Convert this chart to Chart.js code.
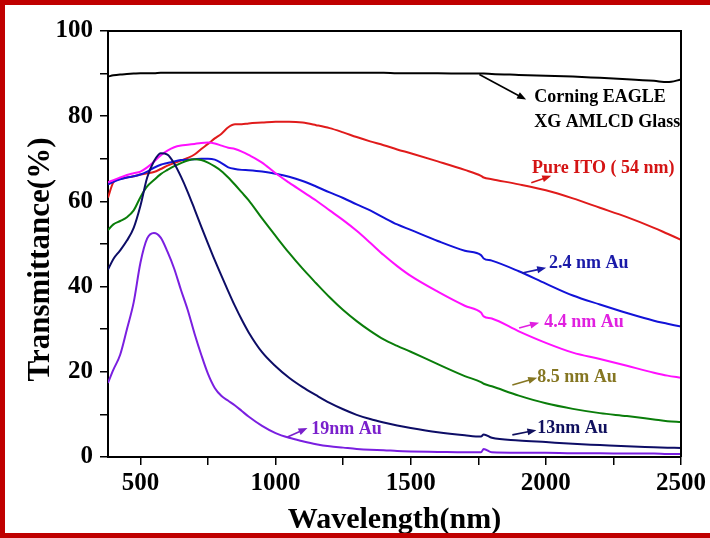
<!DOCTYPE html>
<html>
<head>
<meta charset="utf-8">
<script src="https://cdn.jsdelivr.net/npm/chart.js@4.4.1/dist/chart.umd.min.js"></script>
<style>
  html, body { margin: 0; padding: 0; background: #fff; }
  #wrap { position: relative; width: 710px; height: 538px; }
  #c { position: absolute; left: 0; top: 0; }
  #frame { position: absolute; left: 0; top: 0; width: 710px; height: 538px; box-sizing: border-box;
           border-top: 5px solid #c00000; border-left: 5px solid #c00000; border-bottom: 5px solid #c00000; pointer-events: none; }
</style>
</head>
<body>
<div id="wrap">
  <canvas id="c" width="710" height="538"></canvas>
  <div id="frame"></div>
</div>
<script>
// ---- data (wavelength in nm, transmittance in %) ----
const wavelengths = [380,400,425,450,475,500,525,550,575,600,625,650,675,700,725,750,775,800,825,850,875,900,950,1000,1050,1100,1150,1200,1250,1300,1350,1400,1450,1500,1600,1700,1760,1770,1800,1900,2000,2100,2200,2300,2400,2450,2500];

const glass = [89.3,89.6,89.8,89.9,90.0,90.1,90.1,90.1,90.2,90.2,90.2,90.2,90.2,90.2,90.2,90.2,90.2,90.2,90.2,90.2,90.2,90.2,90.2,90.2,90.2,90.2,90.2,90.2,90.2,90.2,90.2,90.2,90.1,90.1,90.1,90.0,90.0,90.0,89.9,89.7,89.5,89.3,89.0,88.7,88.3,88.0,88.6];

const ito = [60.9,64.5,65.3,65.6,65.9,66.3,66.6,66.9,67.6,68.4,69.0,69.6,70.2,71.0,72.3,73.5,74.8,75.9,77.4,78.1,78.1,78.3,78.5,78.7,78.7,78.5,77.9,77.2,76.2,75.1,74.1,73.2,72.2,71.3,69.4,67.4,66.0,65.6,65.2,64.0,62.6,60.7,58.5,56.3,53.8,52.4,51.0];

const au24 = [64.0,64.6,65.2,65.6,65.9,66.3,67.0,67.9,68.6,69.0,69.4,69.7,69.8,69.9,70.0,70.0,69.8,69.0,68.0,67.6,67.4,67.3,67.0,66.5,65.8,64.8,63.5,62.1,60.8,59.3,57.9,56.2,54.6,53.3,50.7,48.4,47.4,46.6,46.1,43.6,40.7,37.9,35.8,33.8,32.0,31.3,30.6];

const au44 = [64.5,65.0,65.6,66.2,66.6,67.0,68.0,69.3,70.8,71.9,72.7,73.1,73.3,73.5,73.7,73.8,73.6,73.1,72.6,72.3,71.7,70.9,69.1,66.6,64.4,62.3,60.2,57.9,55.6,53.1,50.3,47.4,44.8,42.5,38.8,35.5,33.9,33.0,32.5,29.5,26.8,24.5,23.0,21.4,19.8,19.1,18.6];

const au85 = [53.3,54.6,55.4,56.3,57.9,61.0,63.5,65.0,66.4,67.4,68.3,69.0,69.6,69.9,69.7,69.1,68.2,67.1,65.6,63.9,62.1,60.3,56.0,51.9,47.9,44.2,40.8,37.5,34.5,31.9,29.6,27.6,26.1,24.7,21.8,19.0,17.6,17.2,16.6,14.4,12.6,11.3,10.3,9.6,8.8,8.4,8.2];

const au13 = [44.0,46.5,48.5,50.8,53.8,59.0,65.6,69.4,71.3,71.0,68.9,65.8,62.2,58.2,54.1,50.1,46.2,42.5,38.9,35.4,32.2,29.3,24.6,21.3,18.6,16.4,14.5,12.7,11.2,9.9,8.9,8.1,7.4,6.8,5.8,5.1,4.8,5.3,4.5,3.9,3.5,3.1,2.8,2.5,2.3,2.2,2.1];

const au19 = [17.4,20.5,24.0,30.0,36.3,45.6,51.3,52.6,51.5,48.2,44.2,39.2,34.5,29.0,24.0,19.5,16.2,14.3,13.2,12.1,10.8,9.5,7.3,5.6,4.5,3.7,3.0,2.5,2.2,1.9,1.7,1.6,1.4,1.3,1.2,1.1,1.1,1.9,1.1,1.0,1.0,0.9,0.9,0.8,0.8,0.7,0.7];

const seriesNames = ['19nm Au','13nm Au','8.5 nm Au','4.4 nm Au','2.4 nm Au','Pure ITO ( 54 nm)','Corning EAGLE XG AMLCD Glass'];
const seriesValues = [au19, au13, au85, au44, au24, ito, glass];
const seriesColors = ['#7a1fe0','#0d0d66','#0a7d0a','#ff10ff','#1212d8','#e01b1b','#000000'];

const xTickLabels = ['500','1000','1500','2000','2500'];
const yTickLabels = ['0','20','40','60','80','100'];

// annotation texts (positions in data units)
const noteTexts = ['Corning EAGLE','XG AMLCD Glass','Pure ITO ( 54 nm)','2.4 nm Au','4.4 nm Au','8.5 nm Au','13nm Au','19nm Au'];
const noteX = [1957,1957,1949,2012,1994,1968,1968,1132];
const noteY = [84.4,78.5,67.7,45.4,31.5,18.6,6.8,6.6];
const noteColors = ['#000000','#000000','#d41414','#1a1aa8','#e020e0','#857622','#10105e','#7a20cc'];

// arrows: from (x0,y0) to (x1,y1) in data units
const arrowX0 = [1754,1946,1912,1901,1876,1876,1044];
const arrowY0 = [89.8,64.4,43.2,30.3,16.9,5.2,4.7];
const arrowX1 = [1927,2020,2001,1975,1968,1965,1118];
const arrowY1 = [83.9,66.0,44.4,31.5,18.6,6.3,6.8];
const arrowColors = ['#000000','#d41414','#1a1aa8','#e020e0','#857622','#10105e','#7a20cc'];

const FONT = "'Liberation Serif', 'Times New Roman', serif";

const datasets = seriesValues.map((vals, i) => ({
  label: seriesNames[i],
  data: wavelengths.map((w, j) => ({ x: w, y: vals[j] })),
  borderColor: seriesColors[i],
  backgroundColor: seriesColors[i],
  borderWidth: 2,
  pointRadius: 0,
  cubicInterpolationMode: 'monotone',
  fill: false
}));

const decorPlugin = {
  id: 'decor',
  afterDatasetsDraw(chart) {
    const { ctx, chartArea: a, scales: { x, y } } = chart;
    ctx.save();
    // frame top/right
    ctx.strokeStyle = '#000';
    ctx.lineWidth = 2;
    ctx.beginPath();
    ctx.moveTo(a.left, a.top);
    ctx.lineTo(a.right, a.top);
    ctx.lineTo(a.right, a.bottom);
    ctx.stroke();
    // arrows
    for (let i = 0; i < arrowX0.length; i++) {
      const x0 = x.getPixelForValue(arrowX0[i]), y0 = y.getPixelForValue(arrowY0[i]);
      const x1 = x.getPixelForValue(arrowX1[i]), y1 = y.getPixelForValue(arrowY1[i]);
      const ang = Math.atan2(y1 - y0, x1 - x0);
      const hl = 9, hw = 3.5;
      ctx.strokeStyle = arrowColors[i];
      ctx.fillStyle = arrowColors[i];
      ctx.lineWidth = 1.6;
      ctx.beginPath();
      ctx.moveTo(x0, y0);
      ctx.lineTo(x1 - hl * 0.8 * Math.cos(ang), y1 - hl * 0.8 * Math.sin(ang));
      ctx.stroke();
      ctx.beginPath();
      ctx.moveTo(x1, y1);
      ctx.lineTo(x1 - hl * Math.cos(ang) + hw * Math.sin(ang), y1 - hl * Math.sin(ang) - hw * Math.cos(ang));
      ctx.lineTo(x1 - hl * Math.cos(ang) - hw * Math.sin(ang), y1 - hl * Math.sin(ang) + hw * Math.cos(ang));
      ctx.closePath();
      ctx.fill();
    }
    // notes
    ctx.font = "bold 18px " + FONT;
    ctx.textAlign = 'left';
    ctx.textBaseline = 'middle';
    for (let i = 0; i < noteTexts.length; i++) {
      ctx.fillStyle = noteColors[i];
      ctx.fillText(noteTexts[i], x.getPixelForValue(noteX[i]), y.getPixelForValue(noteY[i]));
    }
    ctx.restore();
  }
};

new Chart(document.getElementById('c'), {
  type: 'line',
  data: { datasets },
  plugins: [decorPlugin],
  options: {
    responsive: false,
    animation: false,
    events: [],
    layout: { padding: { left: 0, right: 27, top: 31, bottom: 0 } },
    plugins: { legend: { display: false }, tooltip: { enabled: false } },
    scales: {
      x: {
        type: 'linear',
        min: 380,
        max: 2500,
        afterFit: s => { s.height = 81; },
        afterBuildTicks: s => { s.ticks = s.ticks.filter(t => t.value % 250 === 0); },
        border: { color: '#000', width: 2 },
        grid: { drawOnChartArea: false, drawTicks: true, tickLength: 8, color: '#000', lineWidth: 1.5 },
        ticks: {
          stepSize: 250,
          includeBounds: false,
          autoSkip: false,
          maxRotation: 0,
          padding: 4,
          color: '#000',
          font: { family: FONT, size: 25, weight: 'bold' },
          callback: v => xTickLabels.includes(String(v)) ? String(v) : ''
        },
        title: {
          display: true,
          text: 'Wavelength(nm)',
          color: '#000',
          font: { family: FONT, size: 30, weight: 'bold' },
          padding: { top: 0, bottom: 0 }
        }
      },
      y: {
        type: 'linear',
        min: 0,
        max: 100,
        afterFit: s => { s.width = 108; },
        border: { color: '#000', width: 2 },
        grid: { drawOnChartArea: false, drawTicks: true, tickLength: 8, color: '#000', lineWidth: 1.5 },
        ticks: {
          stepSize: 10,
          autoSkip: false,
          padding: 7,
          color: '#000',
          font: { family: FONT, size: 25, weight: 'bold' },
          callback: v => yTickLabels.includes(String(v)) ? String(v) : ''
        },
        title: {
          display: true,
          text: 'Transmittance(%)\u00a0\u00a0\u00a0\u00a0',
          color: '#000',
          font: { family: FONT, size: 31, weight: 'bold' },
          padding: { top: 22, bottom: 0 }
        }
      }
    }
  }
});
</script>
</body>
</html>
